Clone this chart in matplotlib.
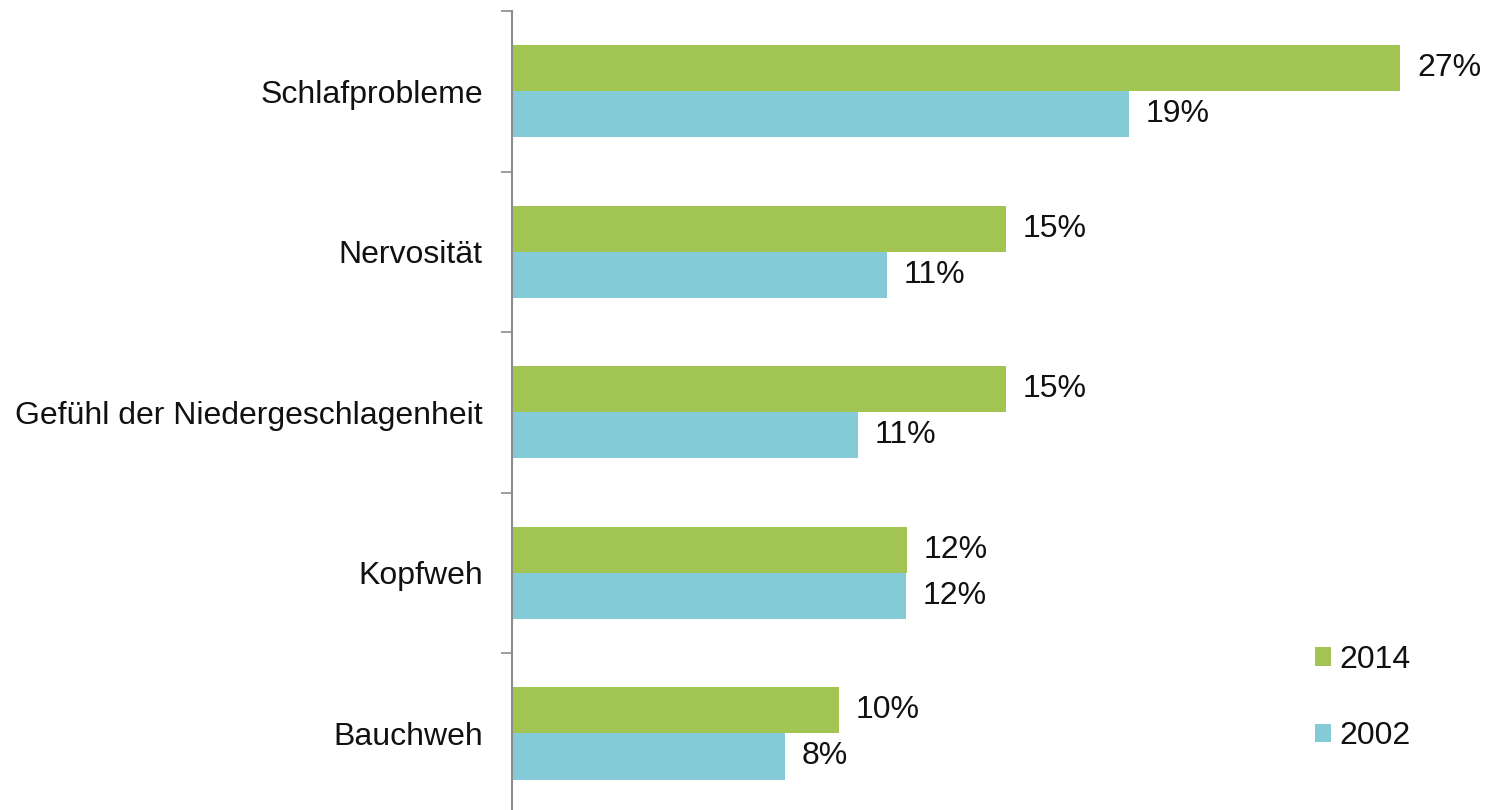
import matplotlib
matplotlib.use("Agg")
import matplotlib.pyplot as plt
from matplotlib.patches import Patch

categories = ["Schlafprobleme", "Nervosität", "Gefühl der Niedergeschlagenheit", "Kopfweh", "Bauchweh"]
series_names = ["2014", "2002"]
values_2014 = [27.0, 15.0, 15.0, 12.0, 9.95]
values_2002 = [18.76, 11.4, 10.52, 11.97, 8.3]

GREEN = "#A1C452"
BLUE = "#84CBD7"
plt.rcParams['font.family'] = ['Liberation Sans', 'DejaVu Sans']

fig = plt.figure(figsize=(14.85, 8.10), dpi=100)
W, H = 1485, 810
left = 512 / W
top = 1 - 11 / H
bottom = -3.7 / H
ax = fig.add_axes([left, bottom, 1 - left, top - bottom])

pos = list(range(len(categories)))
bh = 0.287
b1 = ax.barh([p - bh / 2 for p in pos], values_2014, height=bh, color=GREEN, label=series_names[0])
b2 = ax.barh([p + bh / 2 for p in pos], values_2002, height=bh, color=BLUE, label=series_names[1])

fs = 23
for bars, vals in ((b1, values_2014), (b2, values_2002)):
    for rect, v in zip(bars, vals):
        ax.annotate(f"{v:.0f}%", xy=(rect.get_width(), rect.get_y() + rect.get_height() / 2),
                    xytext=(12, 0), textcoords="offset points", ha="left", va="center",
                    fontsize=fs, color="#111111")

ax.set_ylim(len(categories) - 0.5, -0.5)
ax.set_xlim(0, (W - 512) / 32.9)

ax.set_yticks(pos)
ax.set_yticklabels(categories, fontsize=fs, color="#111111")
ax.tick_params(axis="y", length=0, pad=21)
ax.set_yticks([p - 0.5 for p in pos] + [len(categories) - 0.5], minor=True)
ax.tick_params(axis="y", which="minor", length=8, width=1.2, color="#8c8c8c")
ax.set_xticks([])

for s in ("top", "right", "bottom"):
    ax.spines[s].set_visible(False)
ax.spines["left"].set_color("#8c8c8c")
ax.spines["left"].set_linewidth(1.5)

handles = [Patch(facecolor=GREEN, edgecolor="none", label=series_names[0]),
           Patch(facecolor=BLUE, edgecolor="none", label=series_names[1])]
leg = ax.legend(handles=handles, loc="center left",
                bbox_to_anchor=((1315 - 512) / (W - 512), 1 - (698 - 11) / (813.7 - 11)),
                frameon=False, fontsize=fs, handlelength=0.5, handleheight=0.5,
                handletextpad=0.25, labelspacing=1.45, borderpad=0, borderaxespad=0)
for t in leg.get_texts():
    t.set_color("#111111")

fig.savefig("out.png", dpi=100, facecolor="white")
